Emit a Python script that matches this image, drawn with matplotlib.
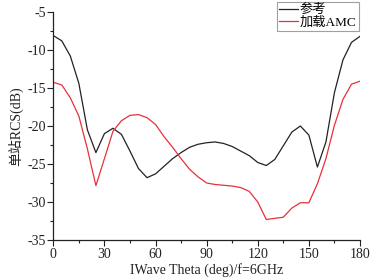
import matplotlib
matplotlib.use("Agg")
import matplotlib.pyplot as plt
from matplotlib.ticker import MultipleLocator

plt.rcParams['font.family'] = ['Liberation Serif', 'Noto Sans CJK SC']
plt.rcParams['axes.unicode_minus'] = False

theta = list(range(0, 181, 5))
ref_rcs = [-8.1, -8.8, -10.8, -14.4, -20.5, -23.5, -21.0, -20.3, -21.1, -23.3,
           -25.6, -26.8, -26.3, -25.3, -24.3, -23.5, -22.8, -22.4, -22.2, -22.1,
           -22.3, -22.7, -23.3, -23.9, -24.8, -25.2, -24.4, -22.6, -20.8, -20.0,
           -21.2, -25.4, -22.1, -15.6, -11.3, -9.0, -8.2]
amc_rcs = [-14.25, -14.6, -16.3, -18.7, -23.0, -27.85, -24.3, -20.7, -19.3, -18.6,
           -18.5, -18.9, -19.8, -21.4, -22.8, -24.3, -25.7, -26.7, -27.5, -27.7,
           -27.8, -27.9, -28.1, -28.6, -30.0, -32.3, -32.15, -32.0, -30.8, -30.1,
           -30.1, -27.6, -24.3, -19.9, -16.5, -14.5, -14.1]
labels = ['参考', '加载AMC']
xticks = [0, 30, 60, 90, 120, 150, 180]
yticks = [-35, -30, -25, -20, -15, -10, -5]

fig = plt.figure(figsize=(3.71, 2.79), dpi=100)
ax = fig.add_axes([53.3/371, 1-240/279, (360-53.3)/371, (240-12)/279])

ax.plot(theta, ref_rcs, color='#222222', lw=0.9, label=labels[0])
ax.plot(theta, amc_rcs, color='#e8303a', lw=0.9, label=labels[1])

ax.set_xlim(0, 180)
ax.set_ylim(-35, -5)
ax.set_xticks(xticks)
ax.set_yticks(yticks)
ax.xaxis.set_minor_locator(MultipleLocator(15))
ax.yaxis.set_minor_locator(MultipleLocator(2.5))
ax.spines['top'].set_visible(False)
ax.spines['right'].set_visible(False)
for s in ['left', 'bottom']:
    ax.spines[s].set_linewidth(0.9)
    ax.spines[s].set_color('#222222')
ax.tick_params(which='major', direction='out', length=4, width=0.8, pad=1,
               labelsize=10, colors='#222222')
ax.tick_params(which='minor', direction='out', length=2.5, width=0.8, colors='#222222')
ax.tick_params(axis='x', pad=2)

ax.set_xlabel('IWave Theta (deg)/f=6GHz', fontsize=10, labelpad=1, color='#222222')
ax.set_ylabel('单站RCS(dB)', fontsize=10, labelpad=3, color='#222222')

leg = fig.legend(loc='upper right', bbox_to_anchor=(358.5/371, 1-2/279),
                 fontsize=9.5, frameon=True, fancybox=False, handlelength=1.5,
                 handletextpad=0.1, borderpad=0.15, labelspacing=0.05,
                 borderaxespad=0)
leg.get_frame().set_edgecolor('#888888')
leg.get_frame().set_linewidth(0.8)

fig.savefig('out.png', dpi=100)
